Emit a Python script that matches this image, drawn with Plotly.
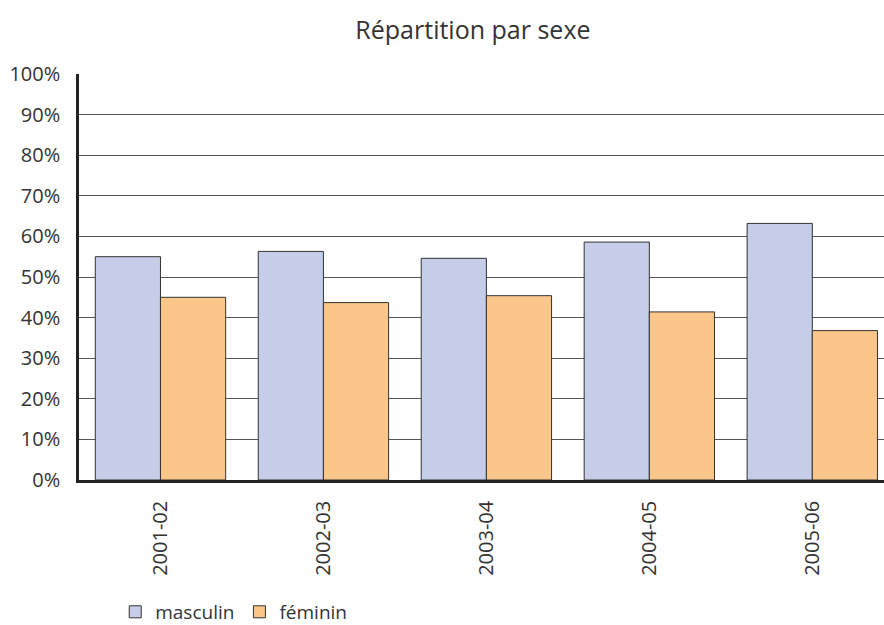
import plotly.graph_objects as go

categories = ["2001-02", "2002-03", "2003-04", "2004-05", "2005-06"]
masculin = [55.0, 56.3, 54.6, 58.6, 63.2]
feminin = [45.0, 43.7, 45.4, 41.4, 36.8]
y_ticks = list(range(0, 101, 10))
y_labels = [f"{v}%" for v in y_ticks]

FONT = "Open Sans"
TXT = "#333333"

fig = go.Figure()
fig.add_trace(go.Bar(x=categories, y=masculin, name="masculin",
                     marker=dict(color="#C5CDE8", line=dict(color="#333333", width=1))))
fig.add_trace(go.Bar(x=categories, y=feminin, name="féminin",
                     marker=dict(color="#FBC68A", line=dict(color="#333333", width=1))))

fig.update_layout(
    width=884, height=625,
    paper_bgcolor="white", plot_bgcolor="white",
    margin=dict(l=79, r=0, t=74, b=145, autoexpand=False),
    barmode="group", bargap=0.2, bargroupgap=0,
    font=dict(family=FONT, color=TXT, size=19),
    title=dict(text="Répartition par sexe", x=0.535, xanchor="center",
               y=0.952, yanchor="middle", font=dict(size=25, color=TXT, family=FONT)),
    showlegend=True,
    legend=dict(orientation="h", x=0.045, xanchor="left", y=-0.325, yanchor="middle",
                font=dict(size=19, color=TXT), itemwidth=30, tracegroupgap=0),
    xaxis=dict(type="category", range=[-0.5, 4.44], tickangle=-90, showline=True,
               linecolor="#222222", linewidth=2.5, showgrid=False, ticks="",
               ticklabelstandoff=10, automargin=False,
               tickfont=dict(size=20, color=TXT)),
    yaxis=dict(range=[0, 100], tickvals=y_ticks, ticktext=y_labels, showline=True,
               linecolor="#222222", linewidth=2.5, showgrid=True, gridcolor="#555555",
               gridwidth=1, zeroline=False, ticks="", ticklabelstandoff=12,
               automargin=False, tickfont=dict(size=20, color=TXT)),
)

fig.write_html("out.html", config={"displayModeBar": False},
               post_script="document.body.style.margin='0';")
